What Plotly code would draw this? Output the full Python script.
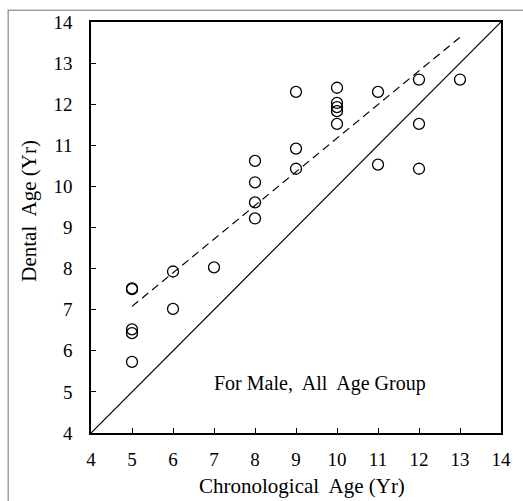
import plotly.graph_objects as go

# Data
chrono_age = [5, 5, 5, 5, 5,
              6, 6,
              7,
              8, 8, 8, 8,
              9, 9, 9,
              10, 10, 10, 10, 10,
              11, 11,
              12, 12, 12,
              13]
dental_age = [7.5, 7.52, 6.52, 6.43, 5.73,
              7.93, 7.02,
              8.03,
              10.62, 10.1, 9.61, 9.22,
              12.3, 10.92, 10.43,
              12.4, 12.03, 11.93, 11.83, 11.52,
              12.3, 10.53,
              12.6, 11.52, 10.43,
              12.6]

trend_x = [5, 13]
trend_y = [7.08, 13.63]

identity_x = [4, 14]
identity_y = [4, 14]

tick_vals = list(range(4, 15))

FONT = "Liberation Serif, Times New Roman, serif"

fig = go.Figure()
fig.add_trace(go.Scatter(x=identity_x, y=identity_y, mode="lines",
                         line=dict(color="black", width=1.2), hoverinfo="skip"))
fig.add_trace(go.Scatter(x=trend_x, y=trend_y, mode="lines",
                         line=dict(color="black", width=1.2, dash="8px,5px"), hoverinfo="skip"))
fig.add_trace(go.Scatter(x=chrono_age, y=dental_age, mode="markers",
                         marker=dict(symbol="circle-open", size=11, color="black",
                                     line=dict(width=1.3, color="black"))))

axis_common = dict(range=[4, 14], tickvals=tick_vals, ticks="inside", ticklen=5,
                   tickwidth=1, tickcolor="black", showgrid=False, zeroline=False,
                   showline=True, linecolor="black", linewidth=1.5, mirror=True,
                   tickfont=dict(family=FONT, size=19, color="black"))

fig.update_layout(
    width=523, height=501,
    margin=dict(l=91, r=16, t=16, b=68),
    paper_bgcolor="white", plot_bgcolor="white",
    showlegend=False,
    font=dict(family=FONT, color="black"),
    xaxis=dict(**axis_common, ticklabelstandoff=8),
    yaxis=dict(**axis_common, ticklabelstandoff=13),
    annotations=[
        dict(text="For Male,\u00a0 All\u00a0 Age Group", x=9.58, y=5.2, xref="x", yref="y",
             showarrow=False, font=dict(family=FONT, size=20, color="black")),
        dict(text="Chronological\u00a0 Age (Yr)", x=0.514, y=-0.129, xref="paper", yref="paper",
             xanchor="center", yanchor="middle", showarrow=False,
             font=dict(family=FONT, size=21, color="black")),
        dict(text="Dental\u00a0 Age (Yr)", x=-0.152, y=0.54, xref="paper", yref="paper",
             xanchor="center", yanchor="middle", showarrow=False, textangle=-90,
             font=dict(family=FONT, size=21, color="black")),
    ],
    shapes=[
        dict(type="rect", xref="paper", yref="paper", x0=-0.2019, x1=1.3, y0=-0.5, y1=1.0288,
             line=dict(color="#a0a0a0", width=1.5), layer="below"),
    ],
)

fig.write_html("out.html")
